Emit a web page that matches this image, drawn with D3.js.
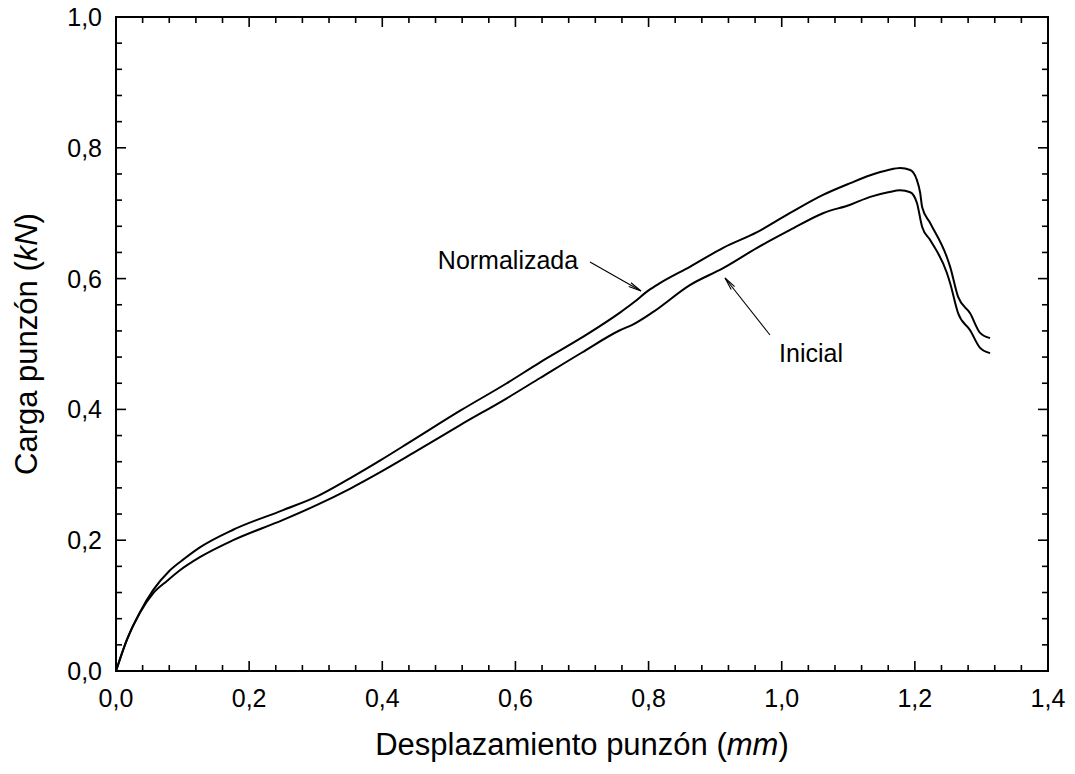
<!DOCTYPE html>
<html>
<head>
<meta charset="utf-8">
<script src="https://cdn.jsdelivr.net/npm/d3@7"></script>
<style>
  body { margin: 0; background: #fff; }
  svg { display: block; font-family: "Liberation Sans", Arial, sans-serif; }
</style>
</head>
<body>
<svg id="chart" width="1075" height="774"></svg>
<script>
// ---- data ----
const normX = [0, 0.016, 0.036, 0.056, 0.080, 0.103, 0.126, 0.176, 0.251, 0.302, 0.352, 0.397, 0.446, 0.517, 0.587, 0.637, 0.700, 0.757, 0.777, 0.800, 0.817, 0.862, 0.912, 0.963, 1.012, 1.062, 1.103, 1.133, 1.160, 1.178, 1.193, 1.203, 1.208, 1.211, 1.223, 1.248, 1.253, 1.265, 1.283, 1.298, 1.313];
const normY = [0, 0.047, 0.090, 0.124, 0.153, 0.172, 0.189, 0.216, 0.246, 0.267, 0.295, 0.322, 0.353, 0.398, 0.440, 0.472, 0.510, 0.548, 0.563, 0.582, 0.593, 0.618, 0.647, 0.671, 0.700, 0.728, 0.746, 0.758, 0.766, 0.769, 0.766, 0.751, 0.731, 0.709, 0.685, 0.633, 0.618, 0.572, 0.547, 0.517, 0.509];
const iniX = [0, 0.016, 0.036, 0.056, 0.077, 0.096, 0.126, 0.176, 0.251, 0.302, 0.352, 0.397, 0.446, 0.517, 0.587, 0.637, 0.700, 0.757, 0.777, 0.807, 0.862, 0.912, 0.963, 1.012, 1.062, 1.103, 1.133, 1.160, 1.178, 1.193, 1.203, 1.211, 1.223, 1.248, 1.253, 1.265, 1.283, 1.298, 1.313];
const iniY = [0, 0.047, 0.089, 0.119, 0.138, 0.154, 0.174, 0.200, 0.231, 0.254, 0.279, 0.304, 0.333, 0.376, 0.417, 0.448, 0.487, 0.521, 0.530, 0.549, 0.590, 0.616, 0.647, 0.674, 0.700, 0.713, 0.725, 0.732, 0.735, 0.732, 0.716, 0.679, 0.659, 0.609, 0.593, 0.547, 0.521, 0.494, 0.486];
const xTicks = [0, 0.2, 0.4, 0.6, 0.8, 1.0, 1.2, 1.4];
const yTicks = [0, 0.2, 0.4, 0.6, 0.8, 1.0];
const xTickLabels = ["0,0", "0,2", "0,4", "0,6", "0,8", "1,0", "1,2", "1,4"];
const yTickLabels = ["0,0", "0,2", "0,4", "0,6", "0,8", "1,0"];

// ---- layout ----
const L = 116, R = 1048, T = 17, B = 671;
const svg = d3.select("#chart");
const x = d3.scaleLinear().domain([0, 1.4]).range([L, R]);
const y = d3.scaleLinear().domain([0, 1.0]).range([B, T]);

const minorX = d3.range(0, 1.4001, 0.04).filter(v => !xTicks.some(t => Math.abs(t - v) < 1e-6));
const minorY = d3.range(0, 1.0001, 0.04).filter(v => !yTicks.some(t => Math.abs(t - v) < 1e-6));

const g = svg.append("g");

// ticks (inward, on all four sides)
function tick(x1, y1, x2, y2) {
  g.append("line").attr("x1", x1).attr("y1", y1).attr("x2", x2).attr("y2", y2)
    .attr("stroke", "#000").attr("stroke-width", 1.6);
}
xTicks.forEach(v => { tick(x(v), B, x(v), B - 10); tick(x(v), T, x(v), T + 10); });
minorX.forEach(v => { tick(x(v), B, x(v), B - 6); tick(x(v), T, x(v), T + 6); });
yTicks.forEach(v => { tick(L, y(v), L + 10, y(v)); tick(R, y(v), R - 10, y(v)); });
minorY.forEach(v => { tick(L, y(v), L + 6, y(v)); tick(R, y(v), R - 6, y(v)); });

// frame
g.append("rect").attr("x", L).attr("y", T).attr("width", R - L).attr("height", B - T)
  .attr("fill", "none").attr("stroke", "#000").attr("stroke-width", 2);

// tick labels
g.selectAll(".xl").data(xTicks).enter().append("text")
  .attr("x", d => x(d)).attr("y", 707).attr("text-anchor", "middle")
  .attr("font-size", 25).attr("fill", "#000")
  .text((d, i) => xTickLabels[i]);
g.selectAll(".yl").data(yTicks).enter().append("text")
  .attr("x", 102).attr("y", d => y(d) + 9).attr("text-anchor", "end")
  .attr("font-size", 25).attr("fill", "#000")
  .text((d, i) => yTickLabels[i]);

// axis titles
const xt = svg.append("text").attr("x", (L + R) / 2).attr("y", 755)
  .attr("text-anchor", "middle").attr("font-size", 31).attr("fill", "#000");
xt.append("tspan").text("Desplazamiento punzón (");
xt.append("tspan").attr("font-style", "italic").text("mm");
xt.append("tspan").text(")");

const yt = svg.append("text").attr("transform", `translate(37,${(T + B) / 2}) rotate(-90)`)
  .attr("text-anchor", "middle").attr("font-size", 31).attr("fill", "#000");
yt.append("tspan").text("Carga punzón (");
yt.append("tspan").attr("font-style", "italic").text("kN");
yt.append("tspan").text(")");

// curves
const line = d3.line().x(d => x(d[0])).y(d => y(d[1])).curve(d3.curveMonotoneX);
const normData = normX.map((v, i) => [v, normY[i]]);
const iniData = iniX.map((v, i) => [v, iniY[i]]);
[normData, iniData].forEach(data => {
  g.append("path").datum(data).attr("d", line)
    .attr("fill", "none").attr("stroke", "#000").attr("stroke-width", 2)
    .attr("stroke-linejoin", "round");
});

// annotations with arrows
function arrow(x1, y1, x2, y2) {
  g.append("line").attr("x1", x1).attr("y1", y1).attr("x2", x2).attr("y2", y2)
    .attr("stroke", "#000").attr("stroke-width", 1.1);
  const ang = Math.atan2(y2 - y1, x2 - x1);
  const len = 13, spread = 0.17;
  const p1 = [x2 - len * Math.cos(ang - spread), y2 - len * Math.sin(ang - spread)];
  const p2 = [x2 - len * Math.cos(ang + spread), y2 - len * Math.sin(ang + spread)];
  g.append("path").attr("d", `M${p1[0]},${p1[1]} L${x2},${y2} L${p2[0]},${p2[1]}`)
    .attr("fill", "none").attr("stroke", "#000").attr("stroke-width", 1.1);
}
g.append("text").attr("x", 508).attr("y", 269).attr("text-anchor", "middle")
  .attr("font-size", 25).attr("fill", "#000").text("Normalizada");
arrow(590, 262, 641, 291);
g.append("text").attr("x", 811).attr("y", 362).attr("text-anchor", "middle")
  .attr("font-size", 25).attr("fill", "#000").text("Inicial");
arrow(770, 335, 725, 278);
</script>
</body>
</html>
